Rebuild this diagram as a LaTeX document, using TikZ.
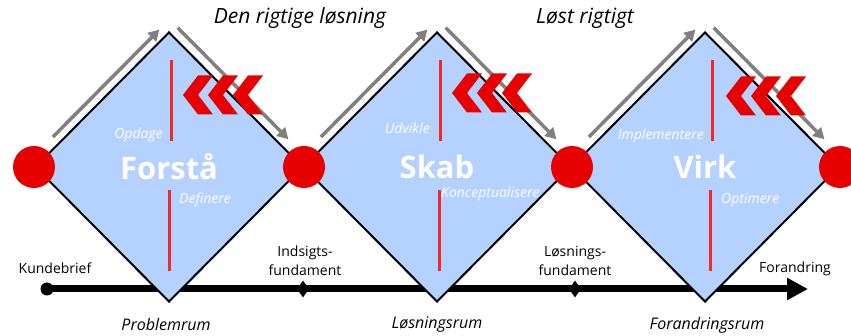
\documentclass[tikz,border=0pt]{standalone}
\usepackage{fontspec}
\setmainfont{Open Sans}
\usepackage{xcolor}
\usepackage{tikz}
\usetikzlibrary{positioning, shapes, calc}
\usetikzlibrary{arrows.meta}
\definecolor{phaseblue}{RGB}{180,209,255}
\definecolor{jointred}{RGB}{230,0,0}
\definecolor{splitred}{RGB}{240,40,40}
\definecolor{flowgray}{RGB}{128,128,128}

\begin{document}
\begin{tikzpicture}[x=1pt,y=-1pt]
            \tikzset{phase/.style = {diamond, draw=black, line width=2pt, fill=phaseblue, minimum width=268pt, minimum height=270pt, inner sep=0pt, text=white, font=\bfseries\fontsize{31}{31}\selectfont}}
            \tikzset{joint/.style = {circle, fill=jointred, minimum size=42pt, inner sep=0pt}}
            \tikzset{flow/.style = {flowgray, line width=3.5pt, -{Triangle[length=11pt,width=12pt]}}}
            \tikzset{split/.style = {splitred, line width=3pt}}
            \tikzset{activity/.style = {text=white, font=\itshape\fontsize{14}{14}\selectfont, inner sep=0pt}}
            \tikzset{space/.style = {font=\itshape\fontsize{16}{16}\selectfont, inner sep=0pt}}
            \tikzset{goal/.style = {font=\itshape\fontsize{21}{21}\selectfont, inner sep=0pt}}
            \tikzset{gate/.style = {font=\fontsize{14}{19}\selectfont, align=center, inner sep=0pt}}
            \tikzset{milestone/.style = {diamond, fill=black, minimum width=12pt, minimum height=17pt, inner sep=0pt}}

            \useasboundingbox (0,0) rectangle (851,336);

            % timeline
            \node[circle, fill=black, minimum size=13pt, inner sep=0pt] (brief) at (47,289) {};
            \node[milestone] (insight) at (303,289) {};
            \node[milestone] (solution) at (575,289) {};
            \coordinate (change) at (808,289);
            \draw[line width=7pt, -{Triangle[length=21pt,width=21pt]}] (brief.center) -- (change);

            % phases
            \node[phase] (d1) at (169,167) {Forstå};
            \node[phase] (d2) at (437,167) {Skab};
            \node[phase] (d3) at (705,167) {Virk};

            % split lines
            \foreach \u/\l in {171/169, 440/439, 712/710} {
                \draw[split] (\u,60) -- (\u,141);
                \draw[split] (\l,190) -- (\l,271);
            }

            % activities
            \node[activity, anchor=east] (opdage) at (163,135) {Opdage};
            \node[activity, anchor=west] (definere) at (179,200) {Definere};
            \node[activity, anchor=east] (udvikle) at (430,128) {Udvikle};
            \node[activity, anchor=west] (konceptualisere) at (441,194) {Konceptualisere};
            \node[activity, anchor=east] (implementere) at (704,136) {Implementere};
            \node[activity, anchor=west] (optimere) at (721,200) {Optimere};

            % joints
            \node[joint] (j0) at (d1.west) {};
            \node[joint] (j1) at (d1.east) {};
            \node[joint] (j2) at (d2.east) {};
            \node[joint] (j3) at (d3.east) {};

            % flow arrows
            \foreach \d in {d1,d2,d3} {
                \draw[flow] ($(\d.west)!0.18!(\d.north)+(-5.5,-5.5)$) -- ($(\d.west)!0.97!(\d.north)+(-5.5,-5.5)$);
                \draw[flow] ($(\d.north)!0.02!(\d.east)+(6,-6)$) -- ($(\d.north)!0.84!(\d.east)+(6,-6)$);
            }

            % chevrons
            \foreach \x/\y in {183/95, 452/93, 726/96} {
                \foreach \i in {0,1,2} {
                    \fill[jointred] (\x+25*\i,\y) -- ++(15,-19.5) -- ++(15,0) -- ++(-15,19.5)
                        -- ++(15,19.5) -- ++(-15,0) -- cycle;
                }
            }

            % goals
            \node[goal] (rigtig) at (300,18) {Den rigtige løsning};
            \node[goal] (lost) at (585,18) {Løst rigtigt};

            % spaces
            \node[space] (problemrum) at (166,325) {Problemrum};
            \node[space] (losningsrum) at (437,325) {Løsningsrum};
            \node[space] (forandringsrum) at (707,325) {Forandringsrum};

            % gates
            \node[gate] (kundebrief) at (55,268) {Kundebrief};
            \node[gate] (indsigt) at (305,261) {Indsigts-\\fundament};
            \node[gate] (fundament) at (575,261) {Løsnings-\\fundament};
            \node[gate] (forandring) at (795,269) {Forandring};
        \end{tikzpicture}
\end{document}
